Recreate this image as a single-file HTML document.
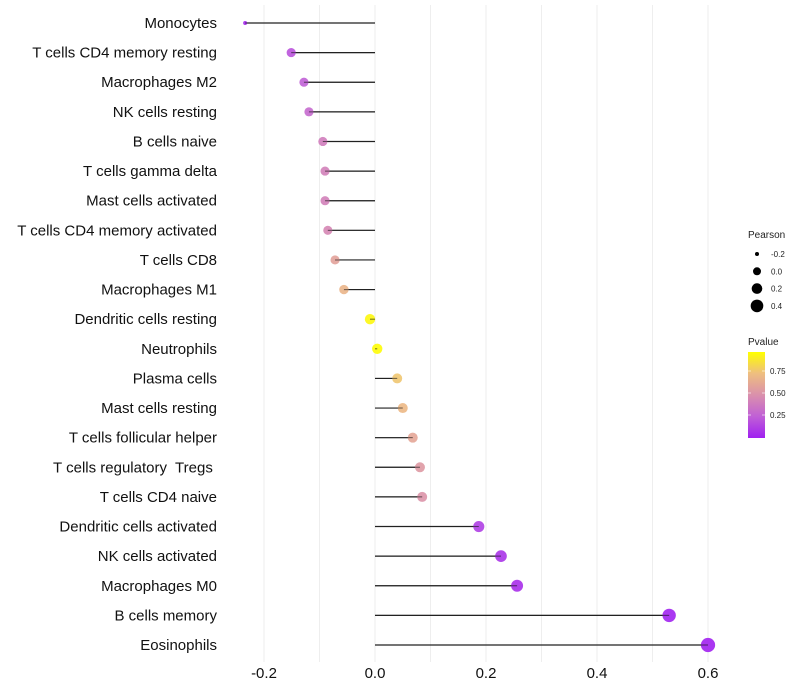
<!DOCTYPE html>
<html><head><meta charset="utf-8"><style>
body{margin:0;background:#fff;}
svg{display:block;font-family:"Liberation Sans",sans-serif;}
</style></head><body>
<svg id="chart" width="800" height="700"></svg>
<script>
const categories=["Monocytes","T cells CD4 memory resting","Macrophages M2","NK cells resting","B cells naive","T cells gamma delta","Mast cells activated","T cells CD4 memory activated","T cells CD8","Macrophages M1","Dendritic cells resting","Neutrophils","Plasma cells","Mast cells resting","T cells follicular helper","T cells regulatory  Tregs ","T cells CD4 naive","Dendritic cells activated","NK cells activated","Macrophages M0","B cells memory","Eosinophils"];
const pearson=[-0.234,-0.151,-0.128,-0.119,-0.094,-0.09,-0.09,-0.085,-0.072,-0.056,-0.009,0.004,0.04,0.05,0.068,0.081,0.085,0.187,0.227,0.256,0.53,0.6];
const sizeVals=[-0.2,0.08,0.08,0.08,0.08,0.08,0.08,0.08,0.08,0.1,0.18,0.18,0.15,0.15,0.15,0.15,0.15,0.25,0.3,0.33,0.48,0.58];
const pvalue=[0.03,0.2,0.25,0.3,0.4,0.42,0.42,0.45,0.6,0.7,0.97,0.99,0.78,0.72,0.62,0.55,0.52,0.12,0.08,0.06,0.01,0.005];
const xTicks=[-0.2,0,0.2,0.4,0.6];
const xTickLabels=["-0.2","0.0","0.2","0.4","0.6"];
const gridVals=[-0.2,-0.1,0,0.1,0.2,0.3,0.4,0.5,0.6];
const sizeLegend=[-0.2,0.0,0.2,0.4];
const pLegend=[0.25,0.5,0.75];

const NS="http://www.w3.org/2000/svg";
const svg=document.getElementById('chart');
const x=v=>375+v*555;
const y=i=>23+i*(622/21);
const r=v=>Math.max(1.8,Math.sqrt(Math.max(0,16+60*v)));
const stops=[[0,[160,32,240]],[0.25,[192,96,214]],[0.5,[218,144,172]],[0.75,[238,190,128]],[1,[255,255,0]]];
function col(p){p=Math.max(0,Math.min(1,p));for(let k=1;k<stops.length;k++){if(p<=stops[k][0]){const a=stops[k-1],b=stops[k],t=(p-a[0])/(b[0]-a[0]);return 'rgb('+a[1].map((c,j)=>Math.round(c+(b[1][j]-c)*t)).join(',')+')';}}return 'rgb(255,255,0)';}
function el(tag,attrs){const e=document.createElementNS(NS,tag);for(const k in attrs)e.setAttribute(k,attrs[k]);svg.appendChild(e);return e;}

gridVals.forEach(v=>{
 const g=el('line',{x1:x(v),x2:x(v),y1:5,y2:662,stroke:'#eeeeee','stroke-width':1});
 
 
});
xTicks.forEach((v,i)=>{
 const t=el('text',{x:x(v),y:678,'text-anchor':'middle','font-size':15,fill:'#111'});
 t.textContent=xTickLabels[i];
 
 
});
categories.forEach((c,i)=>{
 const t=el('text',{x:217,y:y(i)+5,'text-anchor':'end','font-size':15,fill:'#111',style:'white-space:pre'});
 t.textContent=c;
 
 
 const s=el('line',{x1:x(0),x2:x(pearson[i]),y1:y(i),y2:y(i),stroke:'#222','stroke-width':1.2});
 
 
 const d=el('circle',{cx:x(pearson[i]),cy:y(i),r:r(sizeVals[i]),fill:col(pvalue[i]),'fill-opacity':0.9});
 
 
 const s2=el('line',{x1:x(0),x2:x(pearson[i]),y1:y(i),y2:y(i),stroke:'#222','stroke-width':1,'stroke-opacity':0.6});
 
 
});
const lt=el('text',{x:748,y:238,'font-size':10,fill:'#222'});lt.textContent='Pearson';


sizeLegend.forEach((v,i)=>{
 const cy=254+i*17.3;
 const c=el('circle',{cx:757,cy:cy,r:r(v),fill:'#000'});
 
 
 const t=el('text',{x:771,y:cy+3,'font-size':8,fill:'#222'});t.textContent=v.toFixed(1);
 
 
});
const pt=el('text',{x:748,y:345,'font-size':10,fill:'#222'});pt.textContent='Pvalue';


const defs=el('defs',{});
const lg=document.createElementNS(NS,'linearGradient');lg.setAttribute('id','pg');lg.setAttribute('x1','0');lg.setAttribute('y1','1');lg.setAttribute('x2','0');lg.setAttribute('y2','0');
stops.forEach(s=>{const st=document.createElementNS(NS,'stop');st.setAttribute('offset',s[0]);st.setAttribute('stop-color','rgb('+s[1].join(',')+')');lg.appendChild(st);});
defs.appendChild(lg);
const bar=el('rect',{x:748,y:352,width:17,height:86,fill:'url(#pg)'});


pLegend.forEach(v=>{
 const yy=437-v*88;
 el('line',{x1:748,x2:751,y1:yy,y2:yy,stroke:'#fff','stroke-opacity':0.6});
 el('line',{x1:762,x2:765,y1:yy,y2:yy,stroke:'#fff','stroke-opacity':0.6});
 const t=el('text',{x:770,y:yy+3,'font-size':8,fill:'#222'});t.textContent=v.toFixed(2);
 
 
});
</script>
</body></html>
